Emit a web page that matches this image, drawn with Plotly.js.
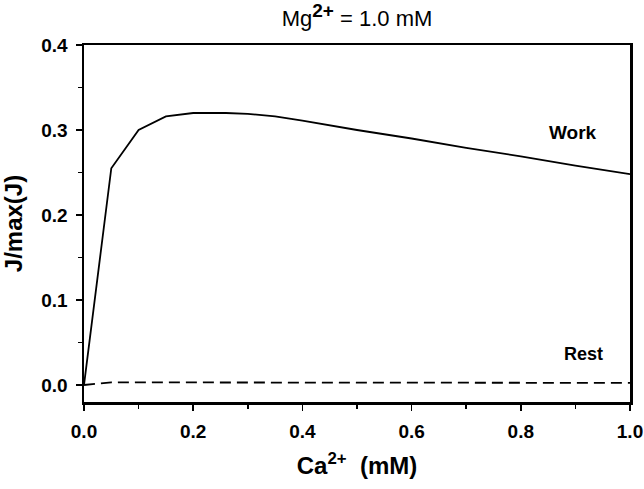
<!DOCTYPE html>
<html><head><meta charset="utf-8">
<script src="https://cdn.plot.ly/plotly-3.0.1.min.js"></script>
<style>html,body{margin:0;padding:0;background:#fff}</style>
</head><body>
<div id="chart" style="width:644px;height:489px"></div>
<script>
const workX = [0, 0.05, 0.1, 0.15, 0.2, 0.26, 0.3, 0.35, 0.4, 0.5, 0.6, 0.7, 0.8, 0.9, 1.0];
const workY = [0.0, 0.255, 0.300, 0.316, 0.320, 0.320, 0.319, 0.316, 0.311, 0.300, 0.290, 0.279, 0.269, 0.258, 0.248];
const restX = [0, 0.05, 0.2, 0.4, 0.6, 0.75, 0.78, 0.9, 1.0];
const restY = [0.0, 0.003, 0.003, 0.003, 0.003, 0.003, 0.0025, 0.0025, 0.0025];
const xTicks = [0, 0.2, 0.4, 0.6, 0.8, 1.0];
const yTicks = [0, 0.1, 0.2, 0.3, 0.4];

const F = 'Liberation Sans, Arial, sans-serif';
const traces = [
  {x: workX, y: workY, mode: 'lines', line: {color: '#000', width: 1.8}, showlegend: false, hoverinfo: 'skip'},
  {x: restX, y: restY, mode: 'lines', line: {color: '#000', width: 1.8, dash: '11px,6px'}, showlegend: false, hoverinfo: 'skip'}
];
const axisCommon = {
  showgrid: false, zeroline: false, showline: true, linecolor: '#000', linewidth: 2.5, mirror: true,
  ticks: 'outside', ticklen: 6, tickwidth: 1.5, tickcolor: '#000', automargin: false,
  tickfont: {family: F, size: 19, color: '#000', weight: 'bold'}, tickformat: '.1f'
};
const layout = {
  width: 644, height: 489,
  margin: {l: 84, r: 14, t: 45, b: 87},
  paper_bgcolor: '#fff', plot_bgcolor: '#fff',
  title: {text: 'Mg<sup><b style="font-size:19px">2+</b></sup> = 1.0 mM', font: {family: F, size: 22, color: '#000'}, x: 0.5, xanchor: 'center', xref: 'paper', y: 0.962, yanchor: 'middle'},
  xaxis: Object.assign({}, axisCommon, {
    range: [0, 1.0], tickvals: xTicks, ticklabelstandoff: 5,
    minor: {dtick: 0.1, ticks: 'outside', ticklen: 4, tickwidth: 1.5, tickcolor: '#000'},
    title: {text: 'Ca<sup>2+</sup>&nbsp; (mM)', font: {family: F, size: 24, color: '#000', weight: 'bold'}, standoff: 16}
  }),
  yaxis: Object.assign({}, axisCommon, {
    range: [-0.02, 0.4], tickvals: yTicks, ticklabelstandoff: 4,
    minor: {dtick: 0.05, tick0: 0, ticks: 'outside', ticklen: 4, tickwidth: 1.5, tickcolor: '#000'},
    title: {text: 'J/max(J)', font: {family: F, size: 24, color: '#000', weight: 'bold'}, standoff: 14}
  }),
  annotations: [
    {x: 0.895, y: 0.297, xref: 'x', yref: 'y', text: 'Work', showarrow: false, font: {family: F, size: 19, color: '#000', weight: 'bold'}},
    {x: 0.915, y: 0.036, xref: 'x', yref: 'y', text: 'Rest', showarrow: false, font: {family: F, size: 18, color: '#000', weight: 'bold'}}
  ]
};
Plotly.newPlot('chart', traces, layout, {displayModeBar: false, staticPlot: true});
</script>
</body></html>
